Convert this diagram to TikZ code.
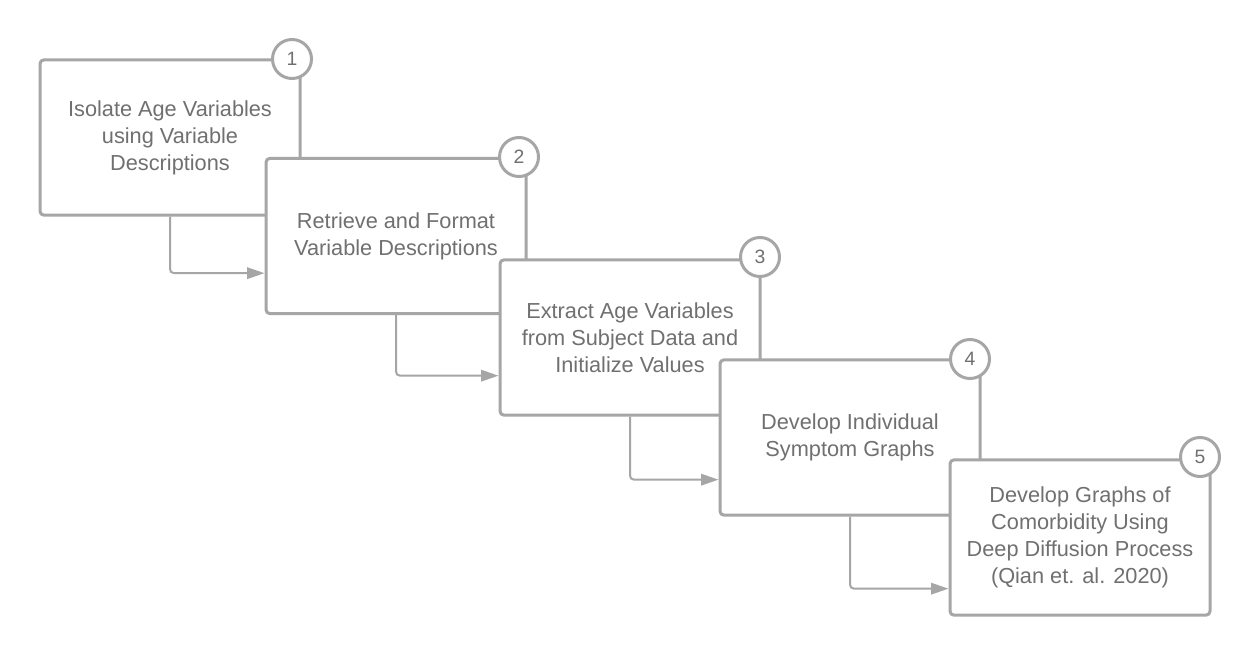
\documentclass[tikz,border=0pt]{standalone}
\usepackage{fontspec}
\setmainfont{Liberation Sans}
\usetikzlibrary{arrows.meta,calc}
\definecolor{linegray}{HTML}{A6A6A6}
\definecolor{textgray}{HTML}{707070}
\begin{document}
\begin{tikzpicture}[x=0.75pt,y=-0.75pt,
  stepbox/.style={draw=linegray, line width=2.25pt, rounded corners=3pt, fill=white,
    minimum width=195pt, minimum height=116.5pt, align=center, text=textgray,
    font=\fontsize{16.3}{20.25}\selectfont, inner sep=0pt},
  numcirc/.style={circle, draw=linegray, line width=2.25pt, fill=white,
    minimum size=29.25pt, inner sep=0pt, text=textgray, font=\fontsize{14.5}{16}\selectfont},
  arr/.style={draw=linegray, line width=1.5pt, rounded corners=3pt,
    -{Triangle[length=13pt,width=8.5pt]}}]
\useasboundingbox (0,0) rectangle (1260,656);
\fill[white] (0,0) rectangle (1260,656);

\node[stepbox] (b1) at (170,137.5) {Isolate Age Variables\\using Variable\\Descriptions};
\node[numcirc] (c1) at (292,59) {1};
\node[stepbox] (b2) at (396,236) {Retrieve and Format\\Variable Descriptions};
\node[numcirc] (c2) at (519,157) {2};
\node[stepbox] (b3) at (630,337.5) {Extract Age Variables\\from Subject Data and\\Initialize Values};
\node[numcirc] (c3) at (760,257) {3};
\node[stepbox] (b4) at (850,437.5) {Develop Individual\\Symptom Graphs};
\node[numcirc] (c4) at (970,359) {4};
\node[stepbox] (b5) at (1080,537.5) {Develop Graphs of\\Comorbidity Using\\Deep Diffusion Process\\(Qian et. al. 2020)};
\node[numcirc] (c5) at (1200,457) {5};

\draw[arr] (b1.south) |- ($(b2.south west)+(0,-42)$);
\draw[arr] (b2.south) |- ($(b3.south west)+(0,-41)$);
\draw[arr] (b3.south) |- ($(b4.south west)+(0,-37)$);
\draw[arr] (b4.south) |- ($(b5.south west)+(0,-28)$);
\end{tikzpicture}
\end{document}
